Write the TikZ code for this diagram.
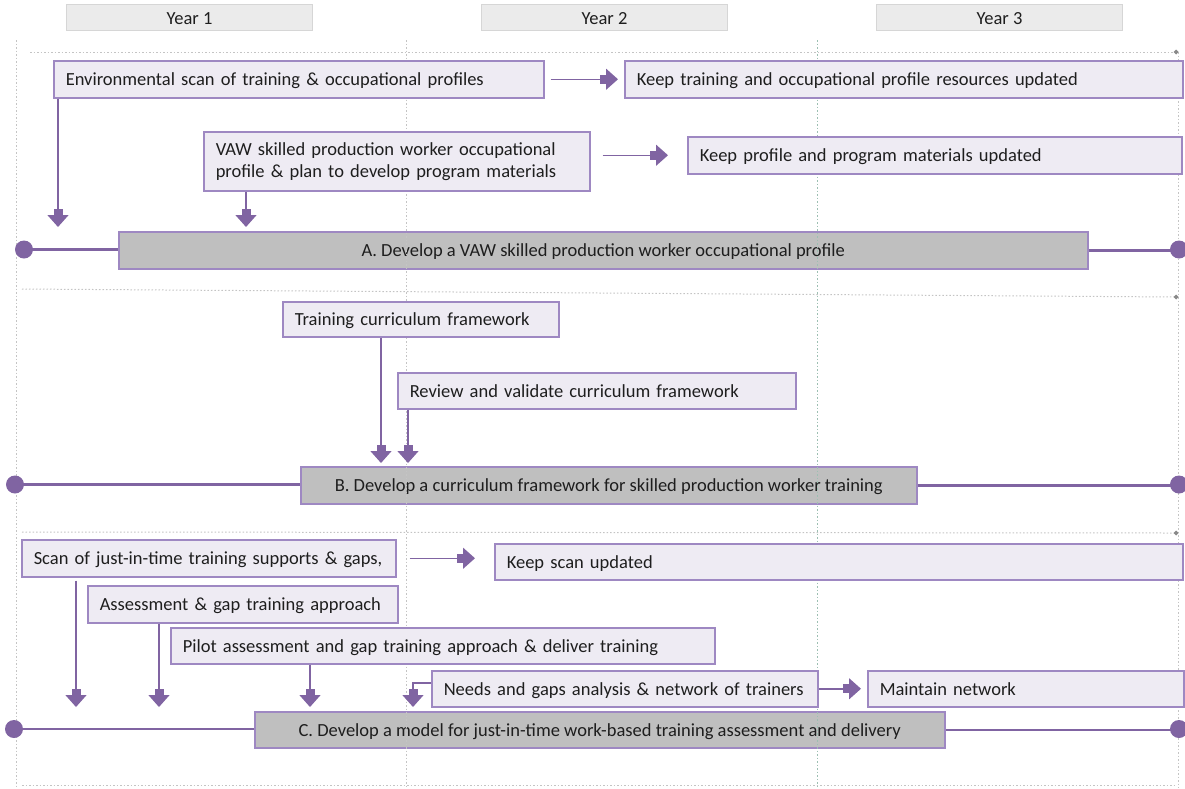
\documentclass[tikz,border=0pt]{standalone}
\usepackage{fontspec}
\setmainfont{Carlito}
\usetikzlibrary{arrows.meta,calc}
\definecolor{purp}{HTML}{8064A2}
\definecolor{bord}{HTML}{9E88C2}
\definecolor{boxfill}{HTML}{EEEBF3}
\definecolor{barfill}{HTML}{BFBFBF}
\definecolor{yrfill}{HTML}{EBEBEB}
\definecolor{yrbord}{HTML}{D6D6D6}
\definecolor{gridc}{HTML}{C4C4C4}
\definecolor{gridg}{HTML}{9CBFB2}
\definecolor{txt}{HTML}{1E1E1E}
\begin{document}
\begin{tikzpicture}[x=1pt,y=-1pt,
  every node/.style={font=\fontsize{18.5}{22}\selectfont, text=txt},
  tbox/.style={draw=bord, fill=boxfill, line width=1.5pt, anchor=north west, align=left,
    inner xsep=12pt, inner ysep=0pt, text height=15pt, text depth=2pt},
  mbox/.style={draw=bord, fill=boxfill, line width=1.5pt, anchor=north west, align=left,
    inner xsep=12pt, inner ysep=0pt},
  barbox/.style={draw=bord, fill=barfill, line width=1.5pt, anchor=north west, align=center,
    inner sep=0pt, text height=15pt, text depth=2pt},
  yrbox/.style={draw=yrbord, fill=yrfill, line width=1pt, anchor=north west,
    inner sep=0pt, minimum width=246pt, minimum height=26pt, text height=15pt, text depth=2pt},
  dotc/.style={circle, fill=purp, minimum size=18pt, inner sep=0pt},
  tl/.style={draw=purp, line width=2.5pt},
  arr/.style={draw=purp, line width=1.5pt, color=purp,
    -{Rectangle[length=8pt,width=9pt,sep=-1.5pt]Triangle[length=12pt,width=21pt,sep=0pt]}},
  grd/.style={draw=gridc, line width=1pt, dash pattern=on 1.5pt off 2pt},
  grdg/.style={draw=gridg, line width=1pt, dash pattern=on 1.5pt off 2pt},
]
\useasboundingbox (0,0) rectangle (1185,788);

% year headers
\node[yrbox] (y1) at (66,4) {Year 1};
\node[yrbox] (y2) at (481,4) {Year 2};
\node[yrbox] (y3) at (876,4) {Year 3};

% bars (under grid)
\node[barbox, minimum width=969pt, minimum height=37pt] (barA) at (118,231) {A. Develop a VAW skilled production worker occupational profile};
\node[barbox, minimum width=616pt, minimum height=37pt] (barB) at (300,466) {B. Develop a curriculum framework for skilled production worker training};
\node[barbox, minimum width=690pt, minimum height=36pt] (barC) at (254,711) {C. Develop a model for just-in-time work-based training assessment and delivery};

% grid
\draw[grd] (16,40) -- (16,788);
\draw[grd] (406,40) -- (406,788);
\draw[grdg] (817,40) -- (817,788);
\draw[grd] (1178,52) -- (1178,788);
\draw[grd] (30,52) -- (1176,52);
\draw[grd] (22,289) -- (1176,297);
\draw[grd] (22,532) -- (1176,533);
\draw[grd] (22,785) -- (1176,785);
\fill[gridc!70!black] (1176,49.5) -- (1178.5,52) -- (1176,54.5) -- (1173.5,52) -- cycle;
\fill[gridc!70!black] (1176,294.5) -- (1178.5,297) -- (1176,299.5) -- (1173.5,297) -- cycle;
\fill[gridc!70!black] (1176,530.5) -- (1178.5,533) -- (1176,535.5) -- (1173.5,533) -- cycle;

% task boxes
\node[tbox, text width=466pt, minimum height=37pt] (env) at (53,60) {\mbox{Environmental scan of training \& occupational profiles}};
\node[tbox, text width=534pt, minimum height=37pt] (keep1) at (624,60) {\mbox{Keep training and occupational profile resources updated}};
\node[mbox, text width=362pt, minimum height=59pt] (vaw) at (203,131) {\mbox{VAW skilled production worker occupational}\\\mbox{profile \& plan to develop program materials}};
\node[tbox, text width=470pt, minimum height=37pt] (keep2) at (687,136) {\mbox{Keep profile and program materials updated}};

\node[tbox, text width=252pt, minimum height=35pt] (trn) at (282,301) {\mbox{Training curriculum framework}};
\node[tbox, text width=374pt, minimum height=36pt] (rev) at (397,372) {\mbox{Review and validate curriculum framework}};

\node[tbox, text width=350pt, minimum height=37pt] (scan) at (21,539) {\mbox{Scan of just-in-time training supports \& gaps,}};
\node[tbox, text width=664pt, minimum height=36pt] (keeps) at (494,543) {\mbox{Keep scan updated}};
\node[tbox, text width=286pt, minimum height=37pt] (assess) at (87,585) {\mbox{Assessment \& gap training approach}};
\node[tbox, text width=520pt, minimum height=36pt] (pilot) at (170,627) {\mbox{Pilot assessment and gap training approach \& deliver training}};
\node[tbox, text width=362pt, minimum height=36pt] (needs) at (431,670) {\mbox{Needs and gaps analysis \& network of trainers}};
\node[tbox, text width=292pt, minimum height=36pt] (maint) at (867,670) {\mbox{Maintain network}};

% timeline ends
\node[dotc] (aL) at (24,249.5) {};
\node[dotc] (aR) at (1179,249.5) {};
\node[dotc] (bL) at (15,484.5) {};
\node[dotc] (bR) at (1179,484.5) {};
\node[dotc] (cL) at (14,729) {};
\node[dotc] (cR) at (1179,729) {};
\draw[tl] (aL.center) -- (aL.center -| barA.west);
\draw[tl] (barA.east) -- (barA.east -| aR.center);
\draw[tl] (bL.center) -- (bL.center -| barB.west);
\draw[tl] (barB.east) -- (barB.east -| bR.center);
\draw[tl] (cL.center) -- (cL.center -| barC.west);
\draw[tl] (barC.east) -- (barC.east -| cR.center);

% horizontal arrows
\draw[arr, shorten <=6pt, shorten >=6pt] (env.east) -- (keep1.west);
\draw[arr, shorten <=12pt, shorten >=19pt] (vaw.east |- keep2.west) -- (keep2.west);
\draw[arr, shorten <=13pt, shorten >=19pt] (scan.east) -- (scan.east -| keeps.west);
\draw[arr, shorten >=6pt] (needs.east) -- (maint.west);

% down arrows
\coordinate (d1) at ($(env.south west)+(5,0)$);
\draw[arr, shorten >=4pt] (d1) -- (d1 |- barA.north);
\coordinate (d2) at ($(vaw.south west)+(43,0)$);
\draw[arr, shorten >=4pt] (d2) -- (d2 |- barA.north);
\coordinate (d3) at ($(trn.south west)+(99,0)$);
\draw[arr, shorten >=3pt] (d3) -- (d3 |- barB.north);
\coordinate (d4) at ($(rev.south west)+(11,0)$);
\draw[arr, shorten >=3pt] (d4) -- (d4 |- barB.north);
\coordinate (d5) at ($(scan.south west)+(55,0)$);
\draw[arr, shorten <=3pt, shorten >=4pt] (d5) -- (d5 |- barC.north);
\coordinate (d6) at ($(assess.south west)+(72,0)$);
\draw[arr, shorten >=4pt] (d6) -- (d6 |- barC.north);
\coordinate (d7) at ($(pilot.south west)+(140,0)$);
\draw[arr, shorten >=4pt] (d7) -- (d7 |- barC.north);
\coordinate (d8) at ($(needs.west)+(-18,-6)$);
\draw[arr, shorten >=4pt] (needs.west |- d8) -- (d8) -- (d8 |- barC.north);
\end{tikzpicture}
\end{document}
